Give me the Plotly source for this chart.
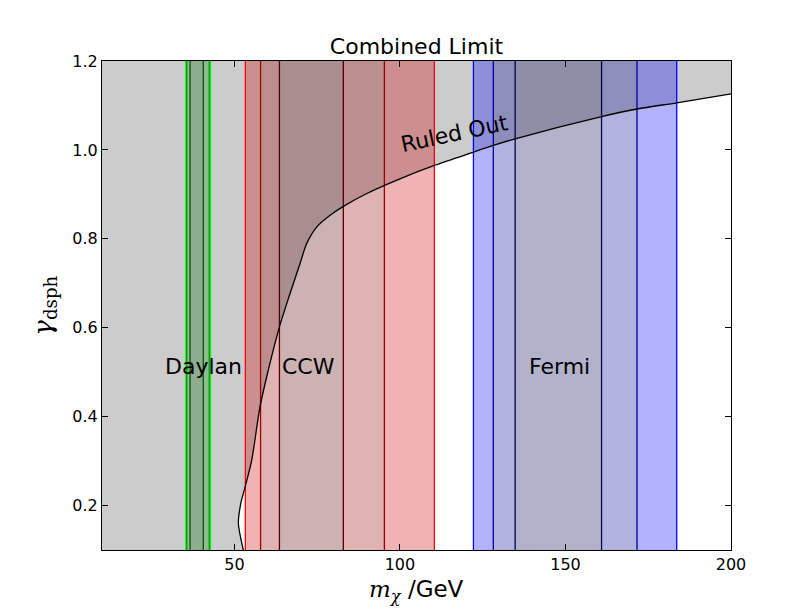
import plotly.graph_objects as go

# ---- data ----
x_range = [10, 200]
y_range = [0.1, 1.2]

# boundary of the ruled-out region (m_chi [GeV], gamma_dsph)
curve_x = [52.7, 51.2, 51.9, 53.2, 55.2, 57.7, 60.7, 63.6, 66.8, 69.8, 71.8,
           74.9, 78.9, 82.9, 90.0, 100.0, 110.4, 122.2, 128.2, 134.8,
           160.9, 171.6, 183.6, 200.0]
curve_y = [0.100, 0.160, 0.204, 0.241, 0.301, 0.421, 0.519, 0.602, 0.677, 0.744,
           0.789, 0.827, 0.853, 0.873, 0.902, 0.935, 0.965, 0.995, 1.010,
           1.025, 1.075, 1.092, 1.106, 1.126]

# nested bands: [outer, middle, inner] as (low, high)
daylan_bands = [(35.3, 42.8), (35.6, 42.4), (36.6, 40.6)]
ccw_bands = [(53.3, 110.4), (57.9, 95.3), (63.6, 82.9)]
fermi_bands = [(122.2, 183.6), (128.2, 171.6), (134.8, 160.9)]

# edge line colours and fill colours (fills drawn at 30% opacity)
daylan_colors = [(0, 255, 0), (0, 153, 0), (0, 90, 0)]
daylan_fills = [(0, 230, 0), (0, 153, 0), (0, 100, 0)]
ccw_colors = [(255, 0, 0), (153, 0, 0), (85, 0, 0)]
ccw_fills = [(205, 0, 0), (155, 0, 0), (85, 0, 0)]
fermi_colors = [(0, 0, 255), (0, 0, 153), (0, 0, 80)]
fermi_fills = [(0, 0, 255), (0, 0, 153), (0, 0, 80)]

labels = ["Daylan", "CCW", "Fermi"]
label_x = [40.8, 72.5, 148.3]
label_y = [0.513, 0.513, 0.513]

ruled_text = "Ruled Out"
ruled_x, ruled_y = 116.6, 1.036

x_ticks = [50, 100, 150, 200]
y_ticks = [0.2, 0.4, 0.6, 0.8, 1.0, 1.2]

title = "Combined Limit"

# ---- figure ----
fig = go.Figure()

# gray "ruled out" region: left of / above the curve
gx = list(curve_x) + [x_range[1], x_range[0], x_range[0]]
gy = list(curve_y) + [y_range[1], y_range[1], y_range[0]]
fig.add_trace(go.Scatter(x=gx, y=gy, mode="lines", fill="toself",
                         fillcolor="rgb(204,204,204)", line=dict(width=0),
                         hoverinfo="skip", showlegend=False))


def add_bands(bands, colors, fills):
    (o0, o1), (m0, m1), (i0, i1) = bands
    pieces = [[(o0, m0), (m1, o1)], [(m0, i0), (i1, m1)], [(i0, i1)]]
    for segs, c in zip(pieces, fills):
        xs, ys = [], []
        for a, b in segs:
            xs += [a, b, b, a, a, None]
            ys += [y_range[0], y_range[0], y_range[1], y_range[1], y_range[0], None]
        fig.add_trace(go.Scatter(x=xs, y=ys, mode="lines", fill="toself",
                                 fillcolor="rgba(%d,%d,%d,0.3)" % c,
                                 line=dict(width=0), hoverinfo="skip",
                                 showlegend=False))
    for (a, b), c in zip(bands, colors):
        fig.add_trace(go.Scatter(x=[a, a, None, b, b],
                                 y=[y_range[0], y_range[1], None, y_range[0], y_range[1]],
                                 mode="lines", line=dict(color="rgb(%d,%d,%d)" % c, width=1.3),
                                 hoverinfo="skip", showlegend=False))


add_bands(daylan_bands, daylan_colors, daylan_fills)
add_bands(ccw_bands, ccw_colors, ccw_fills)
add_bands(fermi_bands, fermi_colors, fermi_fills)

# boundary curve
fig.add_trace(go.Scatter(x=curve_x, y=curve_y, mode="lines",
                         line=dict(color="black", width=1.3, shape="spline", smoothing=0.8),
                         hoverinfo="skip", showlegend=False))

for t, xx, yy in zip(labels, label_x, label_y):
    fig.add_annotation(x=xx, y=yy, xref="x", yref="y", text=t, showarrow=False,
                       font=dict(family="DejaVu Sans", size=22, color="black"),
                       xanchor="center", yanchor="middle")

fig.add_annotation(x=ruled_x, y=ruled_y, xref="x", yref="y", text=ruled_text,
                   showarrow=False, textangle=-12,
                   font=dict(family="DejaVu Sans", size=22, color="black"),
                   xanchor="center", yanchor="middle")

# axis labels
fig.add_annotation(x=0.5, y=-0.084, xref="paper", yref="paper",
                   text='<span style="font-family:DejaVu Serif"><i>m</i><sub><i>χ</i></sub></span> /GeV',
                   showarrow=False, xanchor="center", yanchor="middle",
                   font=dict(family="DejaVu Sans", size=23, color="black"))
fig.add_annotation(x=-0.092, y=0.50, xref="paper", yref="paper",
                   text='<i>γ</i><sub>dsph</sub>', textangle=-90,
                   showarrow=False, xanchor="center", yanchor="middle",
                   font=dict(family="DejaVu Serif", size=26, color="black"))

axis_common = dict(showline=True, linecolor="black", linewidth=1, mirror="ticks",
                   ticks="inside", ticklen=6, tickwidth=1, tickcolor="black",
                   showgrid=False, zeroline=False,
                   tickfont=dict(family="DejaVu Sans", size=16, color="black"))

fig.update_layout(
    width=812, height=612,
    margin=dict(l=102, r=81, t=61, b=62),
    paper_bgcolor="white", plot_bgcolor="white",
    title=dict(text=title, x=0.5, xref="paper", xanchor="center",
               y=1 - 46 / 612, yref="container", yanchor="middle",
               font=dict(family="DejaVu Sans", size=22, color="black")),
    xaxis=dict(range=x_range, tickvals=x_ticks, **axis_common),
    yaxis=dict(range=y_range, tickvals=y_ticks, tickformat=".1f", **axis_common),
)

fig.write_html("out.html")
